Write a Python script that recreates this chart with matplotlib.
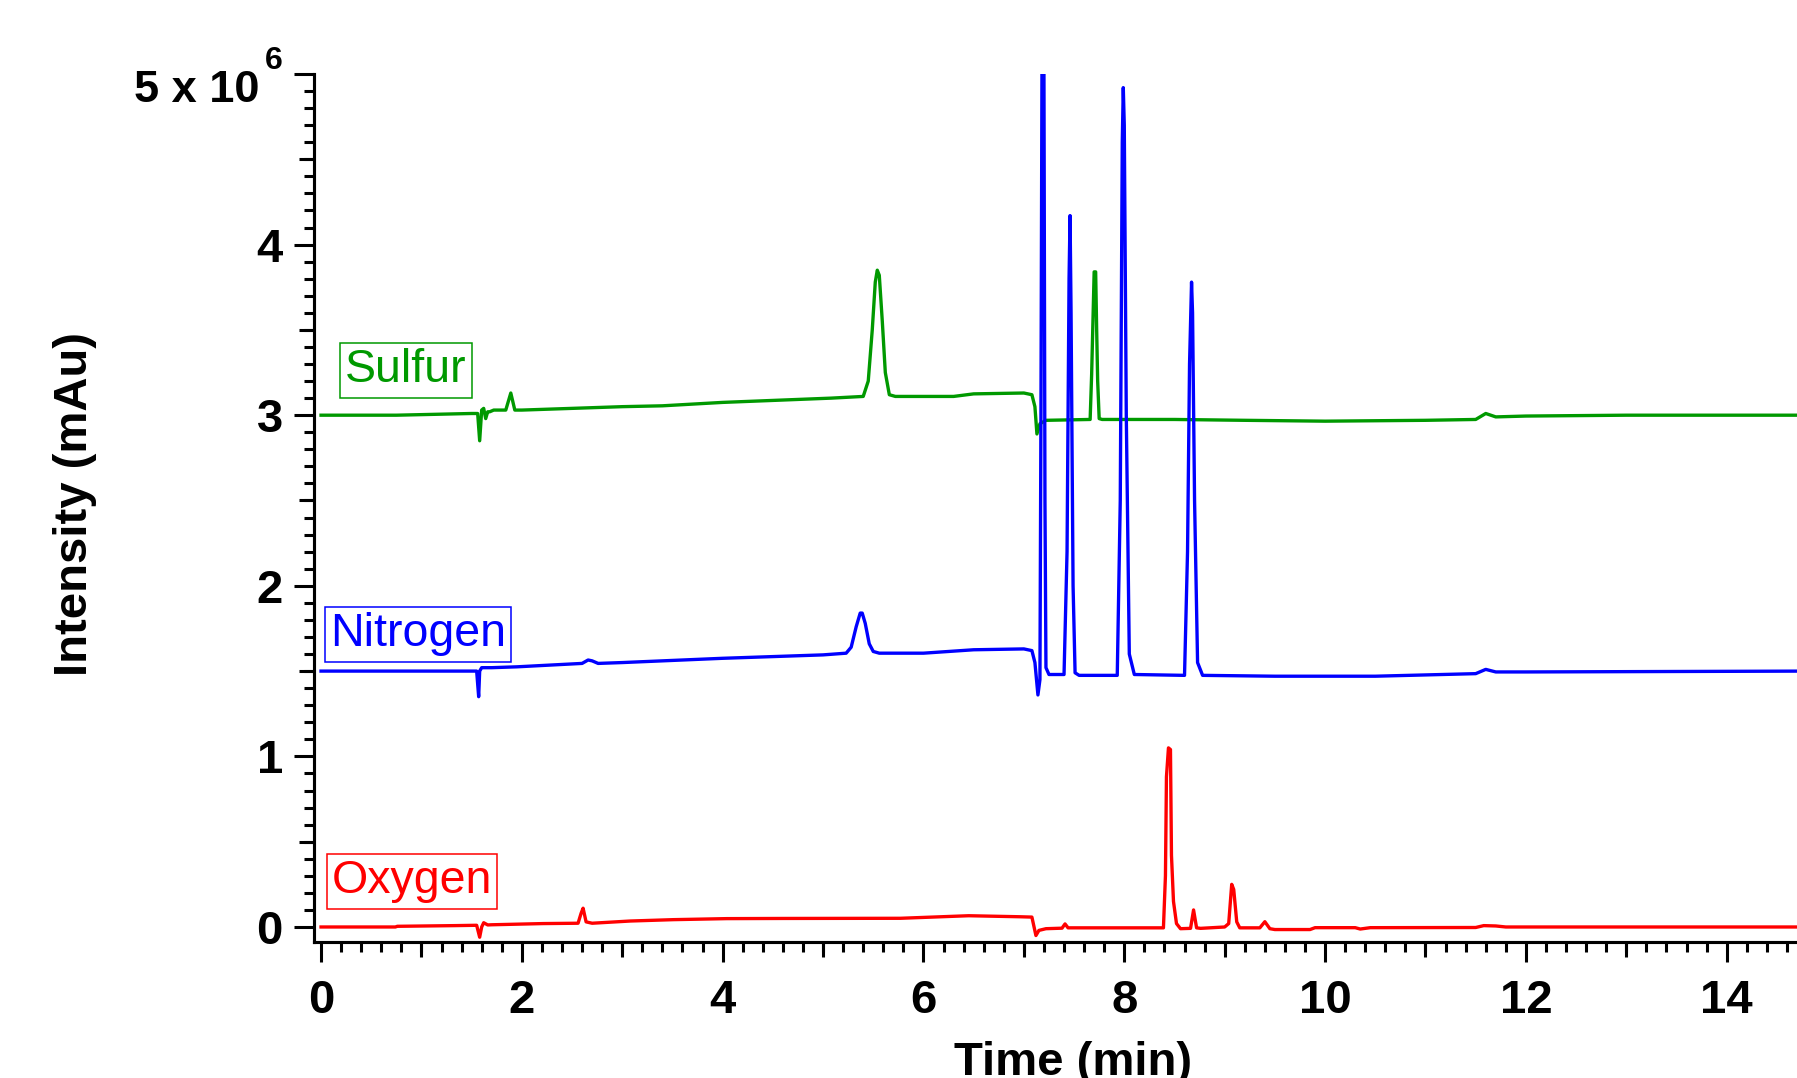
import matplotlib
matplotlib.use('Agg')
import matplotlib.pyplot as plt
from matplotlib.ticker import MultipleLocator, FixedLocator, FixedFormatter

plt.rcParams['font.family'] = ['Liberation Sans', 'DejaVu Sans']
plt.rcParams['font.weight'] = 'bold'

# ---------------- data (intensity in units of 1e6 mAu) ----------------
sulfur_time = [0.00, 0.75, 1.50, 1.56, 1.58, 1.60, 1.62, 1.64, 1.66, 1.68, 1.72,
               1.84, 1.87, 1.89, 1.91, 1.93, 2.00, 3.00, 3.40, 4.00, 5.08,
               5.40, 5.45, 5.49, 5.52, 5.54, 5.56, 5.59, 5.62, 5.66, 5.72,
               6.30, 6.50, 7.00, 7.08, 7.11, 7.13, 7.16, 7.22,
               7.66, 7.675, 7.69, 7.70, 7.715, 7.725, 7.735, 7.75, 7.78,
               8.50, 9.20, 10.00, 11.00, 11.50, 11.60, 11.70, 12.00, 13.00, 14.80]
sulfur_int = [3.000, 3.000, 3.010, 3.010, 2.850, 3.030, 3.040, 2.980, 3.020, 3.020, 3.030,
              3.030, 3.090, 3.130, 3.080, 3.030, 3.030, 3.050, 3.055, 3.075, 3.100,
              3.110, 3.200, 3.500, 3.780, 3.850, 3.820, 3.550, 3.250, 3.120, 3.110,
              3.110, 3.125, 3.130, 3.120, 3.050, 2.890, 2.950, 2.970,
              2.975, 3.240, 3.600, 3.840, 3.840, 3.500, 3.200, 2.980, 2.975,
              2.975, 2.970, 2.965, 2.970, 2.975, 3.010, 2.990, 2.995, 3.000, 3.000]

nitrogen_time = [0.00, 1.00, 1.55, 1.57, 1.58, 1.60, 1.62, 1.70, 1.95,
                 2.60, 2.66, 2.70, 2.76, 3.00, 4.00, 5.00,
                 5.23, 5.28, 5.33, 5.37, 5.39, 5.42, 5.46, 5.50, 5.56,
                 6.00, 6.50, 7.00, 7.08, 7.11, 7.14, 7.16, 7.17, 7.18, 7.20, 7.21, 7.22, 7.25,
                 7.40, 7.43, 7.45, 7.46, 7.47, 7.49, 7.51, 7.55,
                 7.93, 7.96, 7.98, 7.99, 8.00, 8.02, 8.05, 8.10,
                 8.60, 8.63, 8.65, 8.67, 8.68, 8.70, 8.73, 8.78,
                 9.50, 10.50, 11.50, 11.60, 11.70, 12.00, 14.80]
nitrogen_int = [1.500, 1.500, 1.500, 1.350, 1.500, 1.520, 1.520, 1.520, 1.525,
                1.545, 1.565, 1.560, 1.545, 1.550, 1.575, 1.595,
                1.605, 1.640, 1.760, 1.840, 1.840, 1.780, 1.660, 1.615, 1.605,
                1.605, 1.625, 1.630, 1.620, 1.550, 1.360, 1.450, 3.000, 5.000, 5.000, 2.500, 1.520, 1.480,
                1.480, 2.200, 3.800, 4.170, 3.600, 2.000, 1.490, 1.475,
                1.475, 2.500, 4.600, 4.920, 4.700, 3.000, 1.600, 1.480,
                1.475, 2.200, 3.300, 3.780, 3.600, 2.500, 1.550, 1.475,
                1.470, 1.470, 1.485, 1.510, 1.495, 1.495, 1.500]

oxygen_time = [0.00, 0.74, 0.76, 1.33, 1.55, 1.58, 1.60, 1.62, 1.66, 1.70,
               2.21, 2.56, 2.59, 2.61, 2.64, 2.70, 3.08, 3.51, 4.04, 4.60,
               5.77, 6.45, 6.96, 7.08, 7.12, 7.15, 7.22, 7.38, 7.41, 7.44,
               8.39, 8.41, 8.42, 8.44, 8.46, 8.47, 8.49, 8.52, 8.56,
               8.66, 8.69, 8.72, 8.76, 9.00, 9.04, 9.07, 9.09, 9.12, 9.15,
               9.35, 9.40, 9.45, 9.50, 9.85, 9.90, 10.30, 10.35, 10.45,
               11.50, 11.58, 11.70, 11.80, 14.80]
oxygen_int = [0.000, 0.000, 0.004, 0.008, 0.010, -0.060, 0.000, 0.025, 0.012, 0.013,
              0.020, 0.022, 0.080, 0.110, 0.030, 0.022, 0.035, 0.043, 0.049, 0.050,
              0.051, 0.066, 0.060, 0.058, -0.050, -0.020, -0.010, -0.007, 0.018, -0.005,
              -0.005, 0.300, 0.880, 1.050, 1.040, 0.420, 0.150, 0.020, -0.010,
              -0.008, 0.100, -0.005, -0.008, 0.000, 0.020, 0.250, 0.220, 0.030, -0.005,
              -0.005, 0.031, -0.010, -0.015, -0.015, -0.004, -0.004, -0.012, -0.004,
              -0.003, 0.008, 0.006, 0.000, 0.000]

trace_names = ['Sulfur', 'Nitrogen', 'Oxygen']
trace_colors = ['#009900', '#0000FF', '#FF0000']
label_pos = [(0.842, 3.262), (0.966, 1.715), (0.906, 0.267)]

y_major = [0, 1, 2, 3, 4, 5]
y_labels = ['0', '1', '2', '3', '4', '']
y_top_base = '5 x 10'
y_top_exp = '6'
y_medium = [0.5, 1.5, 2.5, 3.5, 4.5]
x_major = [0, 2, 4, 6, 8, 10, 12, 14]
x_labels = ['0', '2', '4', '6', '8', '10', '12', '14']
x_medium = [1, 3, 5, 7, 9, 11, 13]

# ---------------- figure ----------------
W, H = 1797, 1078
fig = plt.figure(figsize=(W / 100, H / 100), dpi=100)
ax = fig.add_axes([314 / W, 1 - 942 / H, (W - 314) / W, (942 - 74) / H])

series = [(sulfur_time, sulfur_int), (nitrogen_time, nitrogen_int), (oxygen_time, oxygen_int)]
for (t, v), c in zip(series, trace_colors):
    assert len(t) == len(v)
    ax.plot(t, v, color=c, lw=2.4, solid_joinstyle='round', zorder=2)

for name, c, (px, py) in zip(trace_names, trace_colors, label_pos):
    ax.text(px, py, name, color=c, fontsize=33.5, fontweight='normal', ha='center', va='center',
            zorder=5,
            bbox=dict(boxstyle='square,pad=0.11', facecolor='white', edgecolor=c, linewidth=1.1))

ax.set_xlim(-0.07, 14.70)
ax.set_ylim(-0.088, 5.0)

for s in ['top', 'right']:
    ax.spines[s].set_visible(False)
for s in ['left', 'bottom']:
    ax.spines[s].set_linewidth(2.2)

ax.yaxis.set_major_locator(FixedLocator(y_major))
ax.yaxis.set_major_formatter(FixedFormatter(y_labels))
ax.yaxis.set_minor_locator(MultipleLocator(0.1))
ax.xaxis.set_major_locator(FixedLocator(x_major))
ax.xaxis.set_major_formatter(FixedFormatter(x_labels))
ax.xaxis.set_minor_locator(MultipleLocator(0.2))

ax.tick_params(axis='both', which='major', direction='out', length=14.4, width=2.2, labelsize=34)
ax.tick_params(axis='both', which='minor', direction='out', length=7.2, width=2.2)
ax.tick_params(axis='y', which='major', pad=8)
ax.tick_params(axis='x', which='major', pad=12)

# top y label "5 x 10^6": base text sits below the tick, exponent raised above
ax.annotate(y_top_base, xy=(0, y_major[-1]), xycoords=('axes fraction', 'data'),
            xytext=(-54, -28), textcoords='offset pixels', ha='right', va='baseline',
            fontsize=32.5, fontweight='bold', annotation_clip=False)
ax.annotate(y_top_exp, xy=(0, y_major[-1]), xycoords=('axes fraction', 'data'),
            xytext=(-49, 5), textcoords='offset pixels', ha='left', va='baseline',
            fontsize=23, fontweight='bold', annotation_clip=False)

secy = ax.secondary_yaxis('left')
secy.set_yticks(y_medium)
secy.set_yticklabels([])
secy.tick_params(direction='out', length=10.8, width=2.2)
secy.spines['left'].set_linewidth(2.2)

secx = ax.secondary_xaxis('bottom')
secx.set_xticks(x_medium)
secx.set_xticklabels([])
secx.tick_params(direction='out', length=10.8, width=2.2)
secx.spines['bottom'].set_linewidth(2.2)

ax.set_xlabel('Time (min)', fontsize=34, fontweight='bold')
ax.xaxis.set_label_coords((1073 - 314) / (W - 314), -0.114)
ax.set_ylabel('Intensity (mAu)', fontsize=34, fontweight='bold', va='center')
ax.yaxis.set_label_coords((75 - 314) / (W - 314), (942 - 504) / (942 - 74))

fig.savefig('out.png', dpi=100)
